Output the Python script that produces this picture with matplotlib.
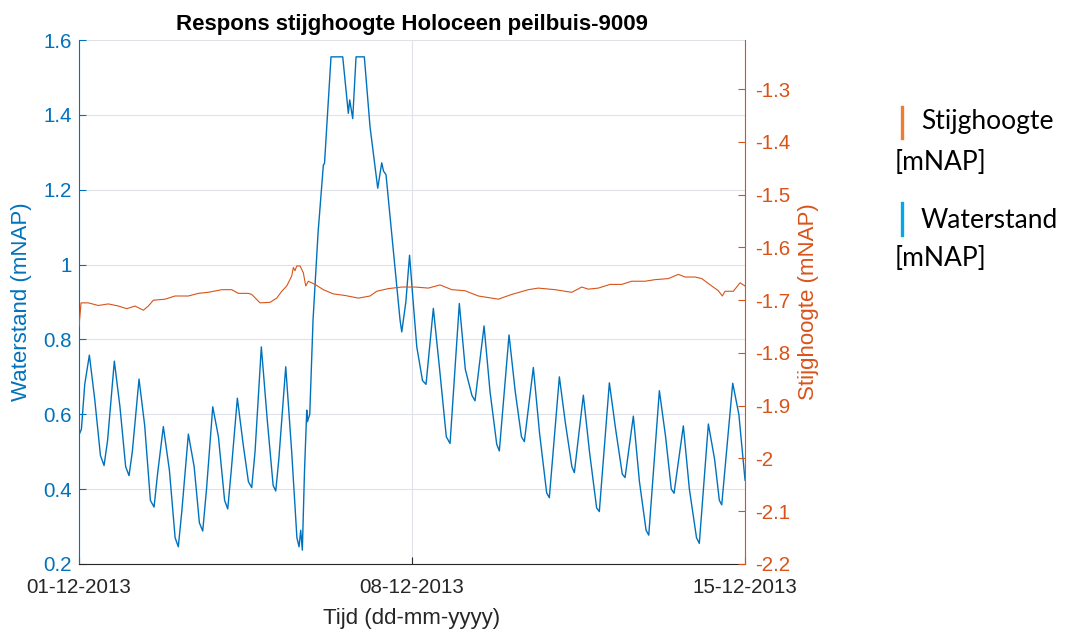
import numpy as np
import pandas as pd
import matplotlib
matplotlib.use("Agg")
import matplotlib.pyplot as plt
from matplotlib.lines import Line2D

# waterstand (left axis), time in days after 01-12-2013 00:00
water_days = [0.00, 0.05, 0.12, 0.217, 0.33, 0.45, 0.526, 0.60, 0.742, 0.86, 0.98, 1.051,
              1.12, 1.261, 1.38, 1.50, 1.577, 1.65, 1.772, 1.90, 2.02, 2.087, 2.16, 2.298,
              2.42, 2.53, 2.600, 2.68, 2.811, 2.93, 3.06, 3.126, 3.20, 3.328, 3.45, 3.56,
              3.630, 3.70, 3.832, 3.96, 4.08, 4.135, 4.20, 4.345, 4.47, 4.58, 4.625, 4.66,
              4.694, 4.74, 4.787, 4.80, 4.85, 4.919, 5.024, 5.136, 5.16, 5.297, 5.543,
              5.661, 5.69, 5.753, 5.823, 5.997, 6.117, 6.279, 6.363, 6.40, 6.453, 6.748,
              6.784, 6.87, 6.948, 7.021, 7.10, 7.22, 7.294, 7.448, 7.58, 7.72, 7.799,
              7.994, 8.12, 8.26, 8.324, 8.514, 8.64, 8.78, 8.835, 9.039, 9.17, 9.30,
              9.361, 9.550, 9.68, 9.83, 9.886, 10.097, 10.22, 10.36, 10.412, 10.601,
              10.73, 10.88, 10.937, 11.148, 11.28, 11.42, 11.478, 11.652, 11.78, 11.92,
              11.976, 12.199, 12.33, 12.45, 12.508, 12.703, 12.83, 12.98, 13.039, 13.229,
              13.36, 13.46, 13.510, 13.741, 13.87, 14.00]
water_level = [0.545, 0.56, 0.68, 0.758, 0.64, 0.49, 0.463, 0.53, 0.742, 0.62, 0.46, 0.436,
               0.50, 0.694, 0.57, 0.37, 0.352, 0.44, 0.567, 0.45, 0.27, 0.246, 0.34, 0.547,
               0.46, 0.31, 0.288, 0.40, 0.620, 0.54, 0.37, 0.347, 0.45, 0.643, 0.52, 0.42,
               0.404, 0.50, 0.780, 0.58, 0.41, 0.395, 0.48, 0.727, 0.50, 0.27, 0.246, 0.29,
               0.237, 0.45, 0.611, 0.58, 0.60, 0.852, 1.084, 1.266, 1.27, 1.555, 1.555,
               1.404, 1.44, 1.390, 1.555, 1.555, 1.368, 1.204, 1.272, 1.25, 1.240, 0.852,
               0.820, 0.90, 1.025, 0.905, 0.78, 0.69, 0.680, 0.883, 0.72, 0.54, 0.522,
               0.896, 0.72, 0.65, 0.636, 0.836, 0.66, 0.52, 0.502, 0.812, 0.66, 0.54,
               0.527, 0.725, 0.55, 0.39, 0.377, 0.700, 0.58, 0.46, 0.444, 0.651, 0.50,
               0.35, 0.340, 0.684, 0.56, 0.44, 0.431, 0.595, 0.42, 0.29, 0.277, 0.663,
               0.54, 0.40, 0.389, 0.569, 0.40, 0.27, 0.255, 0.574, 0.48, 0.37, 0.358,
               0.683, 0.60, 0.424]

# stijghoogte (right axis)
head_days = [0.000, 0.042, 0.196, 0.406, 0.616, 0.826, 1.003, 1.177, 1.352, 1.457, 1.562,
             1.808, 2.018, 2.298, 2.508, 2.718, 3.000, 3.210, 3.349, 3.559, 3.630, 3.805,
             4.015, 4.156, 4.261, 4.366, 4.471, 4.505, 4.540, 4.576, 4.646, 4.715, 4.766,
             4.820, 4.961, 5.135, 5.346, 5.592, 5.871, 6.117, 6.258, 6.502, 6.784, 7.063,
             7.343, 7.589, 7.835, 8.114, 8.394, 8.814, 9.096, 9.445, 9.655, 10.006,
             10.357, 10.567, 10.706, 10.916, 11.162, 11.408, 11.618, 11.898, 12.108,
             12.388, 12.598, 12.739, 12.949, 13.090, 13.300, 13.439, 13.523, 13.580,
             13.754, 13.895, 14.000]
head_level = [-1.750, -1.705, -1.705, -1.710, -1.707, -1.711, -1.716, -1.711, -1.719,
              -1.711, -1.700, -1.698, -1.692, -1.692, -1.687, -1.685, -1.680, -1.680,
              -1.687, -1.687, -1.689, -1.705, -1.704, -1.696, -1.683, -1.673, -1.654,
              -1.638, -1.644, -1.635, -1.635, -1.648, -1.673, -1.664, -1.670, -1.680,
              -1.688, -1.691, -1.696, -1.692, -1.683, -1.678, -1.675, -1.675, -1.677,
              -1.671, -1.680, -1.682, -1.692, -1.698, -1.689, -1.680, -1.677, -1.680,
              -1.685, -1.675, -1.679, -1.677, -1.670, -1.670, -1.664, -1.664, -1.661,
              -1.659, -1.651, -1.656, -1.656, -1.659, -1.673, -1.682, -1.692, -1.683,
              -1.683, -1.667, -1.673]

start = pd.Timestamp("2013-12-01")
water_t = start + pd.to_timedelta(water_days, unit="D")
head_t = start + pd.to_timedelta(head_days, unit="D")
xtick_t = [start, start + pd.Timedelta(days=7), start + pd.Timedelta(days=14)]
xtick_labels = ["01-12-2013", "08-12-2013", "15-12-2013"]

blue = "#0072BD"
orange = "#D95319"
gray = "#262626"

plt.rcParams["font.family"] = ["Liberation Sans", "DejaVu Sans"]

fig = plt.figure(figsize=(10.68, 6.30), dpi=100)
ax = fig.add_axes([0.074, 0.1048, 0.6236, 0.8317])
ax2 = ax.twinx()

ax.plot(water_t, water_level, color=blue, lw=1.0)
ax2.plot(head_t, head_level, color=orange, lw=0.8)

ax.set_xlim(start, start + pd.Timedelta(days=14))
ax.set_ylim(0.2, 1.6)
ax2.set_ylim(-2.2, -1.2067)
ax.set_yticks([0.2, 0.4, 0.6, 0.8, 1.0, 1.2, 1.4, 1.6])
ax.set_yticklabels(["0.2", "0.4", "0.6", "0.8", "1", "1.2", "1.4", "1.6"])
ax2.set_yticks([-2.2, -2.1, -2.0, -1.9, -1.8, -1.7, -1.6, -1.5, -1.4, -1.3])
ax2.set_yticklabels(["-2.2", "-2.1", "-2", "-1.9", "-1.8", "-1.7", "-1.6", "-1.5", "-1.4", "-1.3"])
ax.set_xticks(xtick_t)
ax.set_xticklabels(xtick_labels)

ax.grid(True, color="#dfe3e8", lw=0.8)
ax.set_axisbelow(True)

for a in (ax, ax2):
    a.spines["top"].set_visible(False)
ax.spines["right"].set_visible(False)
ax.spines["left"].set_color(blue)
ax.spines["bottom"].set_color(gray)
ax2.spines["left"].set_visible(False)
ax2.spines["bottom"].set_visible(False)
ax2.spines["right"].set_color(orange)

ax.tick_params(axis="y", direction="in", length=5, colors=blue, labelsize=14.8, pad=5)
ax.tick_params(axis="x", direction="in", length=5, colors=gray, labelsize=14.8, pad=10)
ax2.tick_params(axis="y", direction="in", length=5, colors=orange, labelsize=14.8, pad=7)

ax.set_ylabel("Waterstand (mNAP)", color=blue, fontsize=16, labelpad=8)
ax2.set_ylabel("Stijghoogte (mNAP)", color=orange, fontsize=16, labelpad=6)
ax.set_xlabel("Tijd (dd-mm-yyyy)", color=gray, fontsize=16, labelpad=8)
ax.set_title("Respons stijghoogte Holoceen peilbuis-9009", fontsize=16,
             fontweight="bold", pad=7)

# legend drawn as separate text, as in the source figure
leg_font = ["Lato", "DejaVu Sans"]
W, H = 1068, 630
fig.add_artist(Line2D([902 / W, 902 / W], [1 - 107 / H, 1 - 138 / H], color="#ED7D31",
                      lw=2.4, transform=fig.transFigure))
fig.add_artist(Line2D([902 / W, 902 / W], [1 - 203 / H, 1 - 235 / H], color="#00A8E8",
                      lw=2.4, transform=fig.transFigure))
fig.text(921 / W, 1 - 122 / H, "Stijghoogte", fontsize=19, va="center", family=leg_font)
fig.text(895 / W, 1 - 162 / H, "[mNAP]", fontsize=19, va="center", family=leg_font)
fig.text(921 / W, 1 - 220 / H, "Waterstand", fontsize=19, va="center", family=leg_font)
fig.text(895 / W, 1 - 258 / H, "[mNAP]", fontsize=19, va="center", family=leg_font)

fig.savefig("out.png", dpi=100)
